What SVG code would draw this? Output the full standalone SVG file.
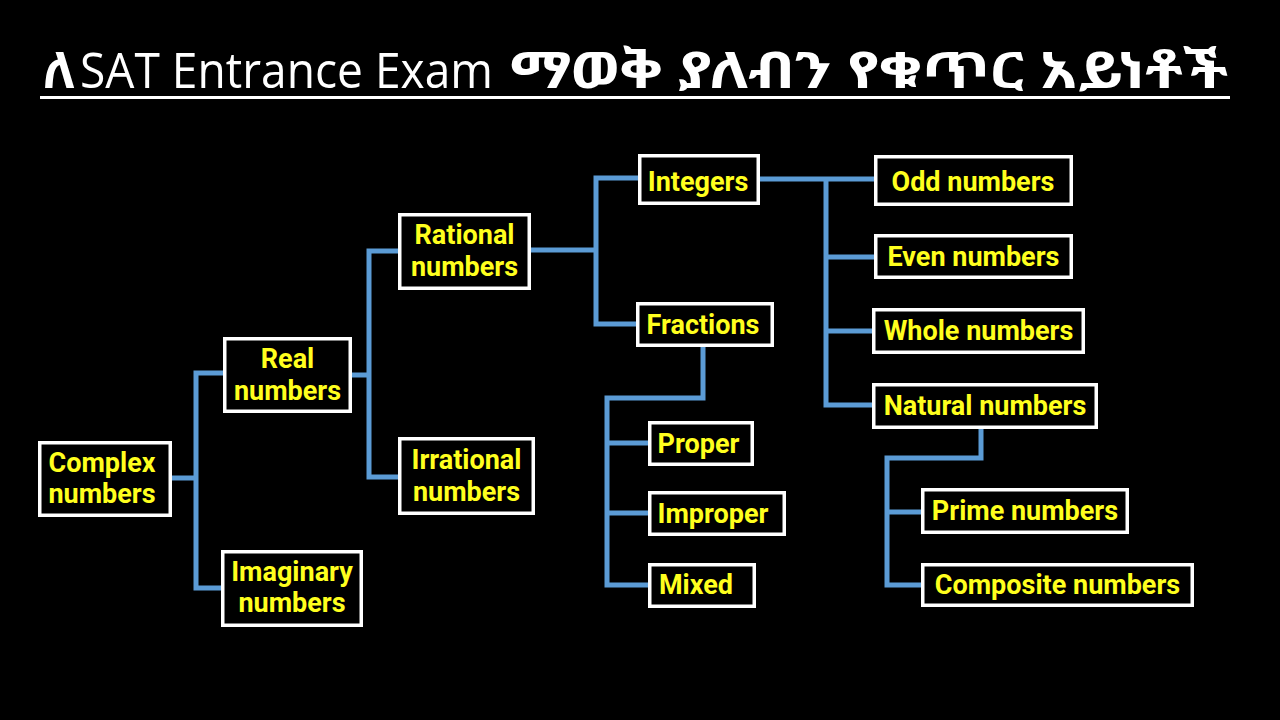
<svg xmlns="http://www.w3.org/2000/svg" width="1280" height="720" viewBox="0 0 1280 720">
<style>
.bg{fill:#000}
.box{fill:#000;stroke:#fff;stroke-width:3.5}
.lbl{font-family:Roboto,"Liberation Sans",sans-serif;font-weight:700;font-size:27px;fill:#ffff1e;text-anchor:middle}
.con{fill:none;stroke:#5b9bd5;stroke-width:5;stroke-linejoin:miter}
.tl{font-family:"Open Sans","Noto Sans","DejaVu Sans",sans-serif;font-size:50px;fill:#fff}
.te{font-family:"Noto Sans Ethiopic","Abyssinica SIL","Noto Sans","DejaVu Sans",sans-serif;font-weight:700;font-size:50px;fill:#fff}
</style>
<rect class="bg" x="0" y="0" width="1280" height="720"/>
<g id="title">
<text class="te" x="43" y="88">ለ</text>
<text class="tl" x="80" y="88" textLength="413" lengthAdjust="spacingAndGlyphs">SAT Entrance Exam</text>
<text class="te" x="510" y="88" textLength="718" lengthAdjust="spacingAndGlyphs">ማወቅ ያለብን የቁጥር አይነቶች</text>
<line x1="40" y1="97.5" x2="1230" y2="97.5" stroke="#fff" stroke-width="3"/>
</g>
<g id="connectors">
<path class="con" d="M171 478 H196"/>
<path class="con" d="M223 373 H196 V588 H221"/>
<path class="con" d="M352 375 H369"/>
<path class="con" d="M398 251 H369 V477 H398"/>
<path class="con" d="M531 250 H596"/>
<path class="con" d="M638 178 H596 V324 H636"/>
<path class="con" d="M760 179 H874"/>
<path class="con" d="M826 179 V405 H872"/>
<path class="con" d="M826 257 H874"/>
<path class="con" d="M826 331 H872"/>
<path class="con" d="M703 347 V398 H607 V585 H648"/>
<path class="con" d="M607 443 H648"/>
<path class="con" d="M607 513 H648"/>
<path class="con" d="M981 429 V458 H887 V585 H921"/>
<path class="con" d="M887 512 H921"/>
</g>
<g id="complex"><rect class="box" x="39.75" y="442.75" width="130.5" height="72.5"/><text class="lbl" x="102" y="472">Complex</text><text class="lbl" x="102" y="503">numbers</text></g>
<g id="real"><rect class="box" x="224.75" y="338.75" width="125.5" height="72.5"/><text class="lbl" x="287.5" y="368">Real</text><text class="lbl" x="287.5" y="400">numbers</text></g>
<g id="imaginary"><rect class="box" x="222.75" y="551.75" width="138.5" height="73.5"/><text class="lbl" x="292" y="581">Imaginary</text><text class="lbl" x="292" y="612">numbers</text></g>
<g id="rational"><rect class="box" x="399.75" y="214.75" width="129.5" height="73.5"/><text class="lbl" x="464.5" y="244">Rational</text><text class="lbl" x="464.5" y="276">numbers</text></g>
<g id="irrational"><rect class="box" x="399.75" y="438.75" width="133.5" height="74.5"/><text class="lbl" x="466.5" y="469">Irrational</text><text class="lbl" x="466.5" y="501">numbers</text></g>
<g id="integers"><rect class="box" x="639.75" y="155.75" width="118.5" height="47.5"/><text class="lbl" x="698" y="191">Integers</text></g>
<g id="fractions"><rect class="box" x="637.75" y="303.75" width="134.5" height="41.5"/><text class="lbl" x="703" y="334">Fractions</text></g>
<g id="proper"><rect class="box" x="649.75" y="422.75" width="102.5" height="41.5"/><text class="lbl" x="698.5" y="453">Proper</text></g>
<g id="improper"><rect class="box" x="649.75" y="492.75" width="134.5" height="41.5"/><text class="lbl" x="713" y="523">Improper</text></g>
<g id="mixed"><rect class="box" x="649.75" y="564.75" width="104.5" height="41.5"/><text class="lbl" x="696" y="594">Mixed</text></g>
<g id="odd"><rect class="box" x="875.75" y="156.75" width="195.5" height="47.5"/><text class="lbl" x="973" y="191">Odd numbers</text></g>
<g id="even"><rect class="box" x="875.75" y="235.75" width="195.5" height="41.5"/><text class="lbl" x="973.5" y="266">Even numbers</text></g>
<g id="whole"><rect class="box" x="873.75" y="309.75" width="209.5" height="42.5"/><text class="lbl" x="978.5" y="340">Whole numbers</text></g>
<g id="natural"><rect class="box" x="873.75" y="384.75" width="222.5" height="42.5"/><text class="lbl" x="985" y="415">Natural numbers</text></g>
<g id="prime"><rect class="box" x="922.75" y="489.75" width="204.5" height="42.5"/><text class="lbl" x="1025" y="520">Prime numbers</text></g>
<g id="composite"><rect class="box" x="922.75" y="564.75" width="269.5" height="40.5"/><text class="lbl" x="1057.5" y="594">Composite numbers</text></g>
</svg>
